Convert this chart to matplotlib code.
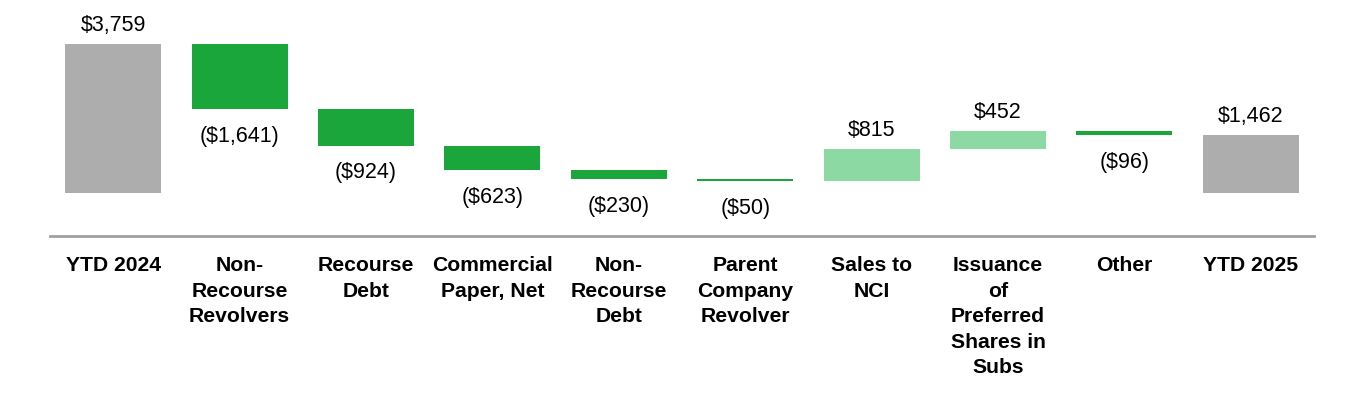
import numpy as np
import matplotlib.pyplot as plt

plt.rcParams['font.family'] = ['Liberation Sans', 'DejaVu Sans']

# Waterfall data ($ millions)
categories = ['YTD 2024', 'Non-\nRecourse\nRevolvers', 'Recourse\nDebt',
              'Commercial\nPaper, Net', 'Non-\nRecourse\nDebt',
              'Parent\nCompany\nRevolver', 'Sales to\nNCI',
              'Issuance\nof\nPreferred\nShares in\nSubs', 'Other', 'YTD 2025']
values = [3759, -1641, -924, -623, -230, -50, 815, 452, -96, 1462]
is_total = [True, False, False, False, False, False, False, False, False, True]

gray = '#ADADAD'
dark_green = '#1AA63A'
light_green = '#8CD9A3'

# running level for the floating bars
bottoms = []
heights = []
colors = []
level = 0
for v, tot in zip(values, is_total):
    if tot:
        bottoms.append(0)
        heights.append(v)
        colors.append(gray)
        level = v
    else:
        if v < 0:
            bottoms.append(level + v)
            colors.append(dark_green)
        else:
            bottoms.append(level)
            colors.append(light_green)
        heights.append(abs(v))
        level += v

def fmt(v):
    s = f'${abs(v):,}'
    return f'({s})' if v < 0 else s

fig = plt.figure(figsize=(13.64, 3.98), dpi=100)
ax = fig.add_axes([0.0367, 0.407, 0.9266, 0.568])

x = np.arange(len(values))
ax.bar(x, heights, bottom=bottoms, width=0.76, color=colors, linewidth=0)

for i, v in enumerate(values):
    top = bottoms[i] + heights[i]
    if v < 0 and not is_total[i]:
        ax.annotate(fmt(v), (x[i], bottoms[i]), xytext=(0, -12),
                    textcoords='offset points', ha='center', va='top', fontsize=15.5)
    else:
        ax.annotate(fmt(v), (x[i], top), xytext=(0, 6),
                    textcoords='offset points', ha='center', va='bottom', fontsize=15.5)

ax.set_xlim(-0.5, 9.5)
ax.set_ylim(-1085, 4617)
ax.set_xticks(x)
ax.set_xticklabels(categories, fontsize=15.2, fontweight='bold', linespacing=1.43)
ax.tick_params(axis='x', length=0, pad=14.5)
ax.set_yticks([])
for s in ['top', 'left', 'right']:
    ax.spines[s].set_visible(False)
ax.spines['bottom'].set_color('#A0A0A0')
ax.spines['bottom'].set_linewidth(2)

fig.savefig('out.png', dpi=100)
